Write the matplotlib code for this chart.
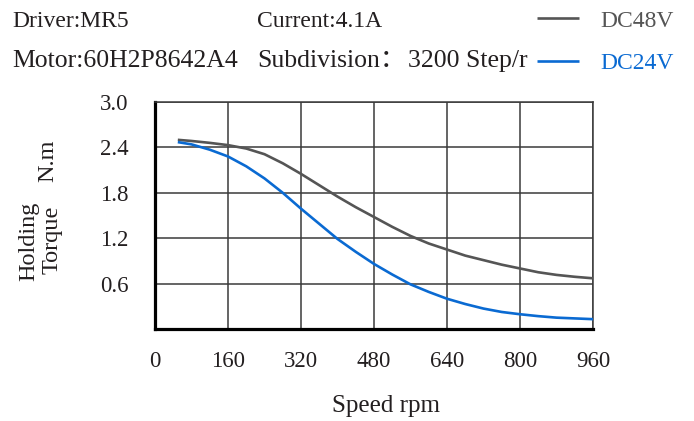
import matplotlib
matplotlib.use("Agg")
import matplotlib.pyplot as plt

# ---- data ----
speed_48 = [50, 80, 120, 160, 200, 240, 280, 320, 360, 400, 440, 480, 520, 560, 600,
            640, 680, 720, 760, 800, 840, 880, 920, 960]
torque_48 = [2.50, 2.485, 2.46, 2.43, 2.385, 2.31, 2.19, 2.05, 1.90, 1.75, 1.61, 1.48,
             1.35, 1.23, 1.13, 1.05, 0.97, 0.91, 0.85, 0.80, 0.75, 0.715, 0.69, 0.67]
speed_24 = [50, 80, 120, 160, 200, 240, 280, 320, 360, 400, 440, 480, 520, 560, 600,
            640, 680, 720, 760, 800, 840, 880, 920, 960]
torque_24 = [2.47, 2.44, 2.37, 2.28, 2.15, 1.99, 1.80, 1.59, 1.39, 1.19, 1.02, 0.86,
             0.72, 0.59, 0.49, 0.40, 0.33, 0.27, 0.225, 0.195, 0.17, 0.15, 0.14, 0.13]
x_ticks = [0, 160, 320, 480, 640, 800, 960]
y_ticks = [0.6, 1.2, 1.8, 2.4, 3.0]
series_labels = ["DC48V", "DC24V"]
header_line1 = ["Driver:MR5", "Current:4.1A"]
header_line2 = ["Motor:60H2P8642A4", "Subdivision：", "3200 Step/r"]

GRAY = "#555555"
BLUE = "#0a6ad2"
TXT = "#231f20"
GRID = "#3a3a3a"

plt.rcParams['font.family'] = ['Liberation Serif', 'Noto Sans CJK SC', 'DejaVu Sans']

W, H = 694, 421
fig = plt.figure(figsize=(W / 100, H / 100), dpi=100)

def fx(px):
    return px / W

def fy(py):
    return 1 - py / H

ax = fig.add_axes([fx(155), fy(329), fx(593) - fx(155), fy(102) - fy(329)])

l48, = ax.plot(speed_48, torque_48, color=GRAY, lw=1.9, solid_capstyle='butt', zorder=3)
l24, = ax.plot(speed_24, torque_24, color=BLUE, lw=1.9, solid_capstyle='butt', zorder=3)

ax.set_xlim(0, 960)
ax.set_ylim(0, 3.0)
ax.set_xticks(x_ticks)
ax.set_xticklabels([str(v) for v in x_ticks])
ax.set_yticks(y_ticks)
ax.set_yticklabels([f"{v:.1f}" for v in y_ticks])
ax.tick_params(axis='both', length=0, labelsize=16.5, colors=TXT)
ax.tick_params(axis='x', pad=16)
ax.tick_params(axis='y', pad=19)
ax.grid(True, color=GRID, lw=1.1)
ax.set_axisbelow(True)
for s in ['left', 'bottom']:
    ax.spines[s].set_linewidth(2.3)
    ax.spines[s].set_color('black')
for s in ['top', 'right']:
    ax.spines[s].set_linewidth(1.1)
    ax.spines[s].set_color(GRID)

# axis labels
fig.text(fx(386), fy(412), "Speed rpm", ha='center', va='baseline', fontsize=18, color=TXT)
fig.text(fx(34), fy(241), "Holding", rotation=90, rotation_mode='anchor',
         ha='center', va='baseline', fontsize=17.5, color=TXT)
fig.text(fx(58), fy(240), "Torque", rotation=90, rotation_mode='anchor',
         ha='center', va='baseline', fontsize=17.5, color=TXT)
fig.text(fx(53), fy(161), "N.m", rotation=90, rotation_mode='anchor',
         ha='center', va='baseline', fontsize=17.5, color=TXT)

# header
fig.text(fx(12.7), fy(27.3), header_line1[0], ha='left', va='baseline', fontsize=17, color=TXT)
fig.text(fx(257), fy(27.3), header_line1[1], ha='left', va='baseline', fontsize=17, color=TXT)
fig.text(fx(12.7), fy(66.7), header_line2[0], ha='left', va='baseline', fontsize=18.5, color=TXT)
fig.text(fx(257), fy(66.7), header_line2[1], ha='left', va='baseline', fontsize=18.5, color=TXT)
fig.text(fx(408), fy(66.7), header_line2[2], ha='left', va='baseline', fontsize=18.5, color=TXT)

leg = fig.legend([l48, l24], series_labels, loc='upper left',
                 bbox_to_anchor=(fx(536.7), fy(10)), frameon=False,
                 fontsize=17, handlelength=1.8, handletextpad=0.88,
                 labelspacing=0.9, borderpad=0, borderaxespad=0)
for t, c in zip(leg.get_texts(), [GRAY, BLUE]):
    t.set_color(c)
for h in leg.legend_handles:
    h.set_linewidth(1.9)

fig.savefig("out.png", dpi=100)
